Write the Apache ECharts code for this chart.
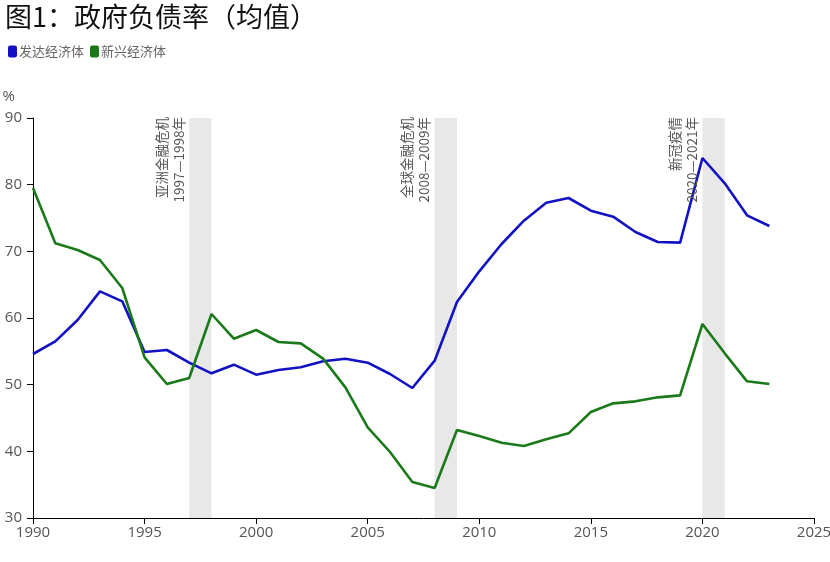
<!DOCTYPE html>
<html><head><meta charset="utf-8">
<script src="https://cdn.jsdelivr.net/npm/echarts@6/dist/echarts.min.js"></script>
<style>html,body{margin:0;padding:0;background:#fff}#c{width:830px;height:562px}</style>
</head><body><div id="c"></div>
<script>
const years = [1990,1991,1992,1993,1994,1995,1996,1997,1998,1999,2000,2001,2002,2003,2004,2005,2006,2007,2008,2009,2010,2011,2012,2013,2014,2015,2016,2017,2018,2019,2020,2021,2022,2023];
const advanced = [54.6,56.5,59.7,64.0,62.5,54.9,55.2,53.3,51.7,53.0,51.5,52.2,52.6,53.5,53.9,53.3,51.6,49.5,53.6,62.4,67.0,71.1,74.6,77.3,78.0,76.1,75.2,72.9,71.4,71.3,84.0,80.2,75.4,73.8];
const emerging = [79.5,71.2,70.2,68.7,64.5,54.1,50.1,51.0,60.6,56.9,58.2,56.4,56.2,53.9,49.6,43.6,39.9,35.4,34.5,43.2,42.3,41.3,40.8,41.8,42.7,45.9,47.2,47.5,48.1,48.4,59.1,54.7,50.5,50.1];
const seriesNames = ['发达经济体','新兴经济体'];
const crises = [
  {start:1997, end:1998, name:'亚洲金融危机', period:'1997—1998年'},
  {start:2008, end:2009, name:'全球金融危机', period:'2008—2009年'},
  {start:2020, end:2021, name:'新冠疫情', period:'2020—2021年'}
];
const xTicks = {min:1990, max:2025, interval:5};
const yTicks = {min:30, max:90, interval:10};

const chart = echarts.init(document.getElementById('c'));
const sansCJK = '"Noto Sans CJK SC", sans-serif';
const axisFont = '"Open Sans", sans-serif';
chart.setOption({
  animation:false,
  title:{text:'图1：政府负债率（均值）', left:0, top:-2,
    textStyle:{fontFamily:sansCJK, fontSize:27, fontWeight:'normal', color:'#111'}},
  legend:{left:3, top:40, icon:'roundRect', itemWidth:9, itemHeight:12, itemGap:6,
    textStyle:{fontFamily:sansCJK, fontSize:13, color:'#666', padding:[0,0,0,-3]},
    data:seriesNames},
  grid:{left:33, right:16, top:118, bottom:44, containLabel:false, outerBoundsMode:'none'},
  xAxis:{type:'value', min:xTicks.min, max:xTicks.max, interval:xTicks.interval,
    axisLine:{lineStyle:{color:'#000', width:1}},
    axisTick:{length:6, lineStyle:{color:'#000'}},
    axisLabel:{color:'#555', fontSize:15, fontFamily:axisFont, margin:7, formatter:v=>String(v)},
    splitLine:{show:false}},
  yAxis:{type:'value', min:yTicks.min, max:yTicks.max, interval:yTicks.interval,
    name:'%', nameLocation:'end', nameGap:14,
    nameTextStyle:{color:'#555', fontSize:15, fontFamily:axisFont, align:'right', padding:[0,18,0,0]},
    axisLine:{show:true, lineStyle:{color:'#000', width:1}},
    axisTick:{show:true, length:6, lineStyle:{color:'#000'}},
    axisLabel:{color:'#555', fontSize:15, fontFamily:axisFont, margin:11},
    splitLine:{show:false}},
  series:[
    {name:seriesNames[0], type:'line', data:years.map((y,i)=>[y,advanced[i]]),
     symbol:'none', lineStyle:{color:'#1212c4', width:2.6}, itemStyle:{color:'#1212c4'}, z:3,
     markArea:{silent:true, itemStyle:{color:'#e8e8e8', opacity:1},
       data:crises.map(c=>[{xAxis:c.start},{xAxis:c.end}])}},
    {name:seriesNames[1], type:'line', data:years.map((y,i)=>[y,emerging[i]]),
     symbol:'none', lineStyle:{color:'#1a7a1a', width:2.6}, itemStyle:{color:'#1a7a1a'}, z:3}
  ]
});
const graphics = crises.map(c=>{
  const p = chart.convertToPixel({xAxisIndex:0, yAxisIndex:0}, [c.start, yTicks.max]);
  return {type:'text', x:p[0]-2, y:p[1]-1, rotation:Math.PI/2, z:10,
    style:{text:c.name+'\n'+c.period, align:'right', verticalAlign:'bottom',
      font:'13.5px "Noto Sans CJK SC", sans-serif', fill:'#555', lineHeight:17}};
});
chart.setOption({graphic:graphics});
</script></body></html>
